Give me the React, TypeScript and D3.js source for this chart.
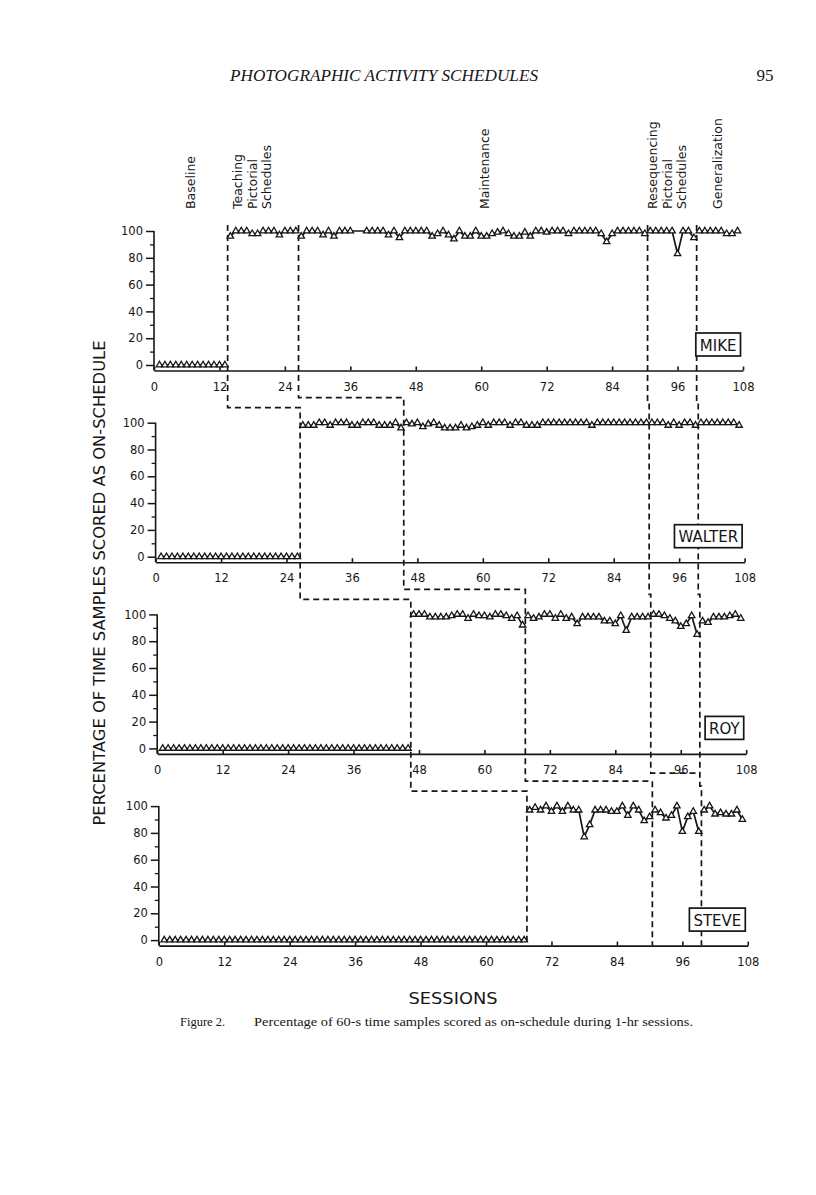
import React, { useEffect, useRef } from "react";
import * as d3 from "d3";

const participants = ["MIKE", "WALTER", "ROY", "STEVE"];

// percentage of samples on-schedule, sessions 1..107 (null = no session)
const mike = [
  0, 0, 0, 0, 0, 0, 0, 0, 0, 0, 0, 0,
  0, 96, 100, 100, 100, 98, 98, 100, 100, 100, 97, 100,
  100, 100, 96, 100, 100, 100, 97, 100, 96, 100, 100, 100,
  null, null, 100, 100, 100, 100, 97, 100, 95, 100, 100, 100,
  100, 100, 96, 98, 100, 97, 94, 100, 96, 96, 100, 96,
  96, 98, 99, 100, 98, 96, 96, 99, 96, 100, 100, 99,
  100, 100, 100, 98, 100, 100, 100, 100, 100, 98, 92, 98,
  100, 100, 100, 100, 100, 98, 100, 100, 100, 100, 100, 83,
  100, 100, 95, 100, 100, 100, 100, 100, 98, 98, 100,
];
const walter = [
  0, 0, 0, 0, 0, 0, 0, 0, 0, 0, 0, 0,
  0, 0, 0, 0, 0, 0, 0, 0, 0, 0, 0, 0,
  0, 0, 98, 98, 98, 100, 100, 98, 100, 100, 100, 98,
  98, 100, 100, 100, 98, 98, 98, 100, 96, 100, 99, 100,
  97, 99, 100, 98, 96, 96, 96, 98, 96, 97, 98, 100,
  98, 100, 100, 100, 98, 100, 100, 98, 98, 98, 100, 100,
  100, 100, 100, 100, 100, 100, 100, 98, 100, 100, 100, 100,
  100, 100, 100, 100, 100, 100, 100, 100, 100, 98, 100, 98,
  100, 100, 98, 100, 100, 100, 100, 100, 100, 100, 98,
];
const roy = [
  0, 0, 0, 0, 0, 0, 0, 0, 0, 0, 0, 0,
  0, 0, 0, 0, 0, 0, 0, 0, 0, 0, 0, 0,
  0, 0, 0, 0, 0, 0, 0, 0, 0, 0, 0, 0,
  0, 0, 0, 0, 0, 0, 0, 0, 0, 0, 100, 100,
  100, 98, 98, 98, 98, 99, 100, 100, 97, 100, 99, 99,
  98, 100, 100, 99, 97, 99, 92, 99, 97, 98, 100, 100,
  97, 100, 97, 98, 93, 98, 98, 98, 98, 95, 95, 93,
  99, 88, 98, 98, 98, 98, 100, 100, 99, 97, 95, 91,
  93, 99, 85, 95, 94, 98, 98, 98, 99, 100, 97,
];
const steve = [
  0, 0, 0, 0, 0, 0, 0, 0, 0, 0, 0, 0,
  0, 0, 0, 0, 0, 0, 0, 0, 0, 0, 0, 0,
  0, 0, 0, 0, 0, 0, 0, 0, 0, 0, 0, 0,
  0, 0, 0, 0, 0, 0, 0, 0, 0, 0, 0, 0,
  0, 0, 0, 0, 0, 0, 0, 0, 0, 0, 0, 0,
  0, 0, 0, 0, 0, 0, 0, 97, 99, 97, 100, 96,
  100, 96, 100, 97, 97, 77, 86, 97, 97, 97, 96, 96,
  100, 93, 100, 97, 89, 92, 97, 95, 91, 93, 100, 81,
  92, 96, 81, 97, 100, 94, 95, 94, 94, 97, 90,
];
const seriesValues = [mike, walter, roy, steve];

// phase changes (between sessions), one entry per participant
const teachingStart = [13.5, 26.5, 46.5, 67.5];
const maintenanceStart = [26.5, 45.5, 67.5, 90.5];
const resequencingStart = [90.5, 90.5, 90.5, null];
const generalizationStart = [99.5, 99.5, 99.5, 99.5];

const phaseNames = [
  ["Baseline"],
  ["Teaching", "Pictorial", "Schedules"],
  ["Maintenance"],
  ["Resequencing", "Pictorial", "Schedules"],
  ["Generalization"],
];

const xTicks = [0, 12, 24, 36, 48, 60, 72, 84, 96, 108];
const yTicks = [0, 20, 40, 60, 80, 100];
const yMinorTicks = [10, 30, 50, 70, 90];

export default function App() {
  const ref = useRef<SVGSVGElement>(null);

  useEffect(() => {
    const svg = d3.select(ref.current);
    svg.selectAll("*").remove();
    const sans = "'DejaVu Sans', Verdana, sans-serif";
    const serif = "'Liberation Serif', 'Times New Roman', serif";
    const ink = "#161616";

    svg.append("rect").attr("width", 816).attr("height", 1195).attr("fill", "#fff");

    // layout of the four stacked panels
    const plotW = 589;
    const plotH = 134;
    const top = (i: number) => 231 + i * 191.7;
    const left = (i: number) => 154 + i * 1.6;
    const xs = participants.map((_, i) =>
      d3.scaleLinear().domain([0, 108]).range([left(i), left(i) + plotW])
    );
    const ys = participants.map((_, i) =>
      d3.scaleLinear().domain([0, 100]).range([top(i) + plotH, top(i)])
    );
    const axisY = (i: number) => ys[i](0) + 5.5;

    // page header
    svg.append("text")
      .attr("x", 384).attr("y", 81)
      .attr("text-anchor", "middle")
      .attr("font-family", serif).attr("font-style", "italic").attr("font-size", 16.5)
      .attr("textLength", 308).attr("lengthAdjust", "spacingAndGlyphs")
      .attr("fill", ink)
      .text("PHOTOGRAPHIC ACTIVITY SCHEDULES");
    svg.append("text")
      .attr("x", 765).attr("y", 81)
      .attr("text-anchor", "middle")
      .attr("font-family", serif).attr("font-size", 17)
      .attr("fill", ink)
      .text("95");

    // phase labels above the top panel
    const labelX = [191, 238, 485, 653, 718];
    phaseNames.forEach((lines, k) => {
      lines.forEach((ln, j) => {
        svg.append("text")
          .attr("transform", `translate(${labelX[k] + j * 14.5},209) rotate(-90)`)
          .attr("dy", "0.35em")
          .attr("font-family", sans).attr("font-size", 12.5)
          .attr("fill", ink)
          .text(ln);
      });
    });

    // dashed phase-change lines, stepping between panels
    const phaseTop = 225;
    const stepPath = (sess: number[], drop: number, endY: number) => {
      const p = d3.path();
      p.moveTo(xs[0](sess[0]), phaseTop);
      sess.forEach((s, i) => {
        const x = xs[i](s);
        if (i > 0) p.lineTo(x, top(i) - drop);
        p.lineTo(x, i < sess.length - 1 ? top(i + 1) - drop : endY);
      });
      return p;
    };
    const dashed = (p: any) =>
      svg.append("path")
        .attr("d", p.toString())
        .attr("fill", "none")
        .attr("stroke", ink)
        .attr("stroke-width", 1.7)
        .attr("stroke-dasharray", "6,4");

    dashed(stepPath(teachingStart, 15, axisY(3)));
    dashed(stepPath(maintenanceStart, 25, axisY(3)));
    const reseq = resequencingStart.filter((d) => d !== null) as number[];
    const rp = stepPath(reseq, 20, top(3) - 33);
    rp.lineTo(xs[2](generalizationStart[2]), top(3) - 33);
    dashed(rp);
    dashed(stepPath(generalizationStart, 20, axisY(3)));

    participants.forEach((name, i) => {
      const x = xs[i];
      const y = ys[i];

      // x axis, ticks pointing up
      const gx = svg.append("g")
        .attr("transform", `translate(0,${axisY(i)})`)
        .call(d3.axisBottom(x).tickValues(xTicks).tickSizeInner(-4).tickSizeOuter(0).tickPadding(12));
      gx.attr("font-family", sans).attr("font-size", 11.5).attr("color", ink);
      gx.selectAll("path, line").attr("stroke-width", 1.6);

      // y axis
      const gy = svg.append("g")
        .attr("transform", `translate(${x(0)},0)`)
        .call(d3.axisLeft(y).tickValues(yTicks).tickSize(8).tickPadding(3));
      gy.select(".domain").remove();
      gy.attr("font-family", sans).attr("font-size", 11.5).attr("color", ink);
      gy.selectAll("line").attr("stroke-width", 1.5);
      gy.append("line")
        .attr("y1", y(100)).attr("y2", axisY(i))
        .attr("stroke", ink).attr("stroke-width", 1.6);
      const gm = svg.append("g")
        .attr("transform", `translate(${x(0)},0)`)
        .call(d3.axisLeft(y).tickValues(yMinorTicks).tickSize(4).tickFormat(() => ""));
      gm.select(".domain").remove();
      gm.attr("color", ink).selectAll("line").attr("stroke-width", 1.3);

      // data, broken at phase changes
      const bounds = [teachingStart[i], maintenanceStart[i], resequencingStart[i], generalizationStart[i]]
        .filter((b) => b !== null) as number[];
      const pts = seriesValues[i]
        .map((v, k) => ({ s: k + 1, v }))
        .filter((d) => d.v !== null) as { s: number; v: number }[];
      const line = d3.line<{ s: number; v: number }>().x((d) => x(d.s)).y((d) => y(d.v));
      d3.groups(pts, (d) => bounds.filter((b) => b < d.s).length).forEach(([, seg]) => {
        svg.append("path")
          .attr("d", line(seg))
          .attr("fill", "none")
          .attr("stroke", ink)
          .attr("stroke-width", 1.7);
      });
      svg.append("g")
        .selectAll("path")
        .data(pts)
        .join("path")
        .attr("transform", (d) => `translate(${x(d.s)},${y(d.v)})`)
        .attr("d", d3.symbol(d3.symbolTriangle, 18))
        .attr("fill", "#fff")
        .attr("stroke", ink)
        .attr("stroke-width", 1.3);
    });

    // participant name boxes (drawn over the dashed lines)
    participants.forEach((name, i) => {
      const g = svg.append("g");
      const t = g.append("text")
        .attr("font-family", sans).attr("font-size", 15)
        .attr("fill", ink)
        .text(name);
      const w = (t.node() as SVGTextElement).getComputedTextLength();
      const right = xs[i](108) - 2.5;
      const bottom = ys[i](0) - 9;
      const h = 23;
      g.insert("rect", "text")
        .attr("x", right - w - 8).attr("y", bottom - h)
        .attr("width", w + 8).attr("height", h)
        .attr("fill", "#fff").attr("stroke", ink).attr("stroke-width", 1.7);
      t.attr("x", right - w - 4).attr("y", bottom - 5.5);
    });

    // axis titles
    svg.append("text")
      .attr("transform", "translate(100,583) rotate(-90)")
      .attr("dy", "0.35em")
      .attr("text-anchor", "middle")
      .attr("font-family", sans).attr("font-size", 15)
      .attr("textLength", 485).attr("lengthAdjust", "spacingAndGlyphs")
      .attr("fill", ink)
      .text("PERCENTAGE OF TIME SAMPLES SCORED AS ON-SCHEDULE");
    svg.append("text")
      .attr("x", 453).attr("y", 1004)
      .attr("text-anchor", "middle")
      .attr("font-family", sans).attr("font-size", 16)
      .attr("textLength", 89).attr("lengthAdjust", "spacingAndGlyphs")
      .attr("fill", ink)
      .text("SESSIONS");

    // caption
    svg.append("text")
      .attr("x", 180).attr("y", 1026)
      .attr("font-family", serif).attr("font-size", 12.5)
      .attr("fill", ink)
      .text("Figure 2.");
    svg.append("text")
      .attr("x", 254).attr("y", 1026)
      .attr("font-family", serif).attr("font-size", 12.5)
      .attr("textLength", 439).attr("lengthAdjust", "spacingAndGlyphs")
      .attr("fill", ink)
      .text("Percentage of 60-s time samples scored as on-schedule during 1-hr sessions.");
  }, []);

  return (
    <svg
      ref={ref}
      width={816}
      height={1195}
      style={{ position: "absolute", left: 0, top: 0 }}
    />
  );
}
